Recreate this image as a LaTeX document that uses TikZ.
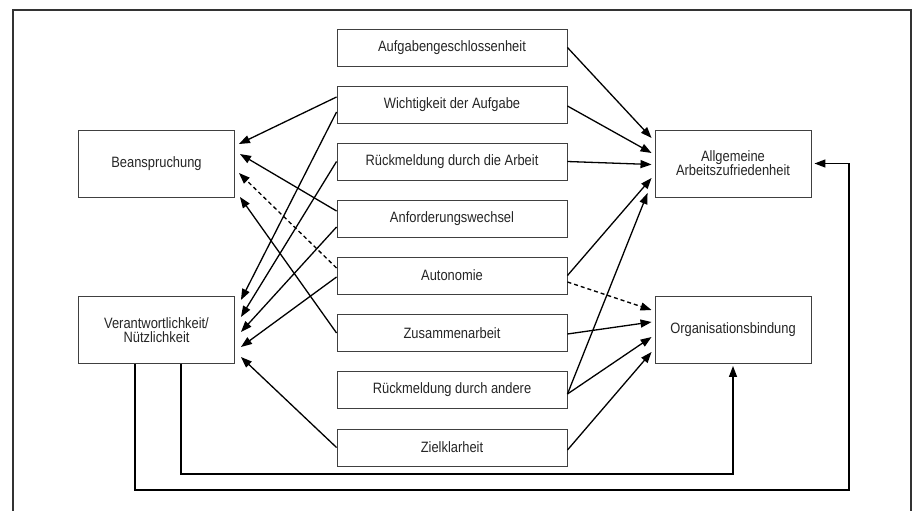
\documentclass[tikz,border=0pt]{standalone}
\usepackage{fontspec}
\setmainfont{Liberation Sans}[FakeStretch=0.86]
\usetikzlibrary{arrows.meta,calc}
\begin{document}
\begin{tikzpicture}[x=1pt,y=-1pt,
  box/.style={draw=black!75,line width=0.9pt,fill=white,text=black!85,
    font=\fontsize{15}{14}\selectfont,align=center,inner sep=0pt},
  midbox/.style={box,minimum width=230pt,minimum height=37pt},
  sidebox/.style={box,minimum width=156pt,minimum height=67pt},
  arr/.style={line width=1.3pt,-{Triangle[length=11pt,width=8pt]}},
  dasharr/.style={arr,dash pattern=on 4pt off 3pt}]
\useasboundingbox (0,0) rectangle (915,511);
\fill[white] (0,0) rectangle (915,511);
% outer frame
\draw[black!80,line width=1.3pt] (13,511) -- (13,10) -- (911,10) -- (911,511);
% middle column
\node[midbox] (aufg)  at (452,47.5)  {Aufgabengeschlossenheit};
\node[midbox] (wich)  at (452,104.5) {Wichtigkeit der Aufgabe};
\node[midbox] (rueck) at (452,161.5) {Rückmeldung durch die Arbeit};
\node[midbox] (anf)   at (452,218.5) {Anforderungswechsel};
\node[midbox] (auto)  at (452,275.5) {Autonomie};
\node[midbox] (zus)   at (452,333)   {Zusammenarbeit};
\node[midbox] (randa) at (452,390)   {Rückmeldung durch andere};
\node[midbox] (ziel)  at (452,447.5) {Zielklarheit};
% side boxes
\node[sidebox] (bean) at (156.5,163.5) {Beanspruchung};
\node[sidebox] (vera) at (156.5,330)   {Verantwortlichkeit/\\Nützlichkeit};
\node[sidebox] (allg) at (733,163.5)   {Allgemeine\\Arbeitszufriedenheit};
\node[sidebox] (org)  at (733,330)     {Organisationsbindung};
% to Beanspruchung
\draw[arr] ([yshift=7.5pt]wich.west) -- ([xshift=4pt,yshift=19.5pt]bean.east);
\draw[arr] ([yshift=7.5pt]anf.west) -- ([xshift=5pt,yshift=9.5pt]bean.east);
\draw[dasharr] ([yshift=7.5pt]auto.west) -- ([xshift=4pt,yshift=-9.5pt]bean.east);
\draw[arr] (zus.west) -- ([xshift=5pt,yshift=-33.5pt]bean.east);
% to Verantwortlichkeit
\draw[arr] ([yshift=-7.5pt]wich.west) -- ([xshift=6pt,yshift=30pt]vera.east);
\draw[arr] (rueck.west) -- ([xshift=6pt,yshift=13pt]vera.east);
\draw[arr] ([yshift=-8.5pt]anf.west) -- ([xshift=6pt,yshift=-2pt]vera.east);
\draw[arr] ([yshift=-1.5pt]auto.west) -- ([xshift=6pt,yshift=-17pt]vera.east);
\draw[arr] (ziel.west) -- ([xshift=6pt,yshift=-27pt]vera.east);
% to Allgemeine Arbeitszufriedenheit
\draw[arr] (aufg.east) -- ([xshift=-3pt,yshift=25.5pt]allg.west);
\draw[arr] ([yshift=-1.5pt]wich.east) -- ([xshift=-3pt,yshift=10.5pt]allg.west);
\draw[arr] (rueck.east) -- ([xshift=-3pt,yshift=-1pt]allg.west);
\draw[arr] (auto.east) -- ([xshift=-3pt,yshift=-14.5pt]allg.west);
\draw[arr] ([yshift=-4pt]randa.east) -- ([xshift=-7pt,yshift=-29.5pt]allg.west);
% to Organisationsbindung
\draw[dasharr] ([yshift=-6.5pt]auto.east) -- ([xshift=-3pt,yshift=20pt]org.west);
\draw[arr] ([yshift=-1pt]zus.east) -- ([xshift=-3pt,yshift=8pt]org.west);
\draw[arr] ([yshift=-4pt]randa.east) -- ([xshift=-3pt,yshift=-7pt]org.west);
\draw[arr] ([yshift=-2.5pt]ziel.east) -- ([xshift=-3pt,yshift=-22pt]org.west);
% feedback loops
\coordinate (fb1) at (849,490);
\coordinate (fb2) at (733,474);
\draw[arr] ([xshift=-21.5pt]vera.south) |- (fb1) |- ([xshift=3pt]allg.east);
\draw[arr] ([xshift=24.5pt]vera.south) |- (fb2) -- ([yshift=-2pt]org.south);
\end{tikzpicture}
\end{document}
